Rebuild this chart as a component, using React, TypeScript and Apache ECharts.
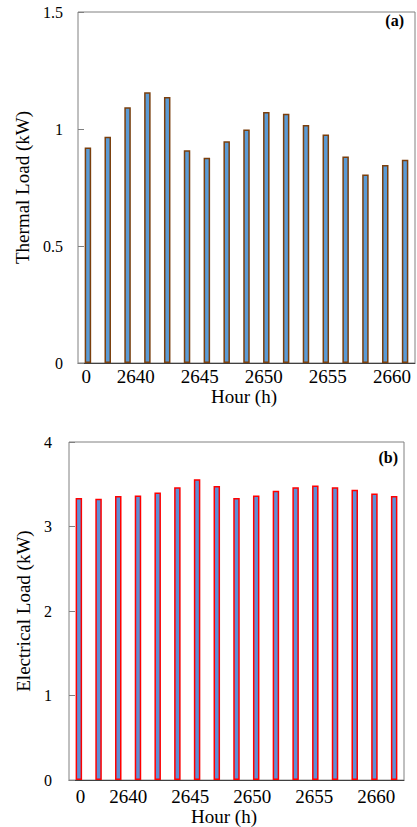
import React, { useEffect, useRef } from 'react';
import * as echarts from 'echarts';

const barCategories = ['1', '2', '3', '4', '5', '6', '7', '8', '9', '10', '11', '12', '13', '14', '15', '16', '17'];
const thermalLoad = [0.921, 0.967, 1.093, 1.157, 1.137, 0.909, 0.877, 0.948, 0.998, 1.073, 1.065, 1.017, 0.977, 0.883, 0.806, 0.846, 0.869];
const electricalLoad = [3.336, 3.328, 3.36, 3.368, 3.403, 3.466, 3.56, 3.478, 3.336, 3.368, 3.422, 3.466, 3.486, 3.466, 3.434, 3.391, 3.36];
const hourTickValues = [2636.15, 2640, 2645, 2650, 2655, 2660];
const hourTickLabels = ['0', '2640', '2645', '2650', '2655', '2660'];

const FONT = 'Liberation Serif, Times New Roman, serif';

const hourFormatter = (v: number) => {
  const i = hourTickValues.findIndex((t) => Math.abs(t - v) < 0.01);
  return i >= 0 ? hourTickLabels[i] : '';
};

export default function App() {
  const ref = useRef<HTMLDivElement>(null);
  useEffect(() => {
    if (!ref.current) return;
    const chart = echarts.init(ref.current, undefined, { renderer: 'svg' });
    const catAxis = (gridIndex: number) => ({
      type: 'category',
      gridIndex,
      data: barCategories,
      boundaryGap: true,
      axisLine: { show: true, lineStyle: { color: '#404040', width: 1 } },
      axisTick: { show: false },
      axisLabel: { show: false },
      splitLine: { show: false },
    });
    const hourAxis = (gridIndex: number, min: number, max: number, margin: number, nameGap: number, padRight: number) => ({
      type: 'value',
      gridIndex,
      min,
      max,
      position: 'bottom',
      axisLine: { show: false },
      axisTick: { show: false },
      splitLine: { show: false },
      axisLabel: {
        customValues: hourTickValues,
        formatter: hourFormatter,
        fontSize: 19,
        fontFamily: FONT,
        color: '#000',
        margin,
      },
      name: 'Hour (h)',
      nameLocation: 'middle',
      nameGap,
      nameTextStyle: { fontSize: 19, fontFamily: FONT, color: '#000', padding: [0, padRight, 0, 0] },
    });
    const valAxis = (gridIndex: number, max: number, interval: number, margin: number, name: string, nameGap: number) => ({
      type: 'value',
      gridIndex,
      min: 0,
      max,
      interval,
      axisLine: { show: false },
      axisTick: { show: true, inside: true, length: 6, lineStyle: { color: '#808080' } },
      splitLine: { show: false },
      axisLabel: { fontSize: 16, fontFamily: FONT, color: '#000', margin },
      name,
      nameLocation: 'middle',
      nameGap,
      nameTextStyle: { fontSize: 19, fontFamily: FONT, color: '#000' },
    });
    chart.setOption({
      animation: false,
      backgroundColor: '#fff',
      textStyle: { fontFamily: FONT },
      grid: [
        { left: 78, top: 12, width: 337, height: 351, show: true, borderColor: '#808080', borderWidth: 1 },
        { left: 69, top: 442, width: 335, height: 339, show: true, borderColor: '#808080', borderWidth: 1 },
      ],
      xAxis: [
        catAxis(0),
        hourAxis(0, 2635.5, 2661.8, 4, 22, 5),
        catAxis(1),
        hourAxis(1, 2635.22, 2662.24, 7, 25, 25),
      ],
      yAxis: [
        valAxis(0, 1.5, 0.5, 15, 'Thermal Load (kW)', 43),
        valAxis(1, 4, 1, 17, 'Electrical Load (kW)', 34),
      ],
      series: [
        {
          type: 'bar',
          xAxisIndex: 0,
          yAxisIndex: 0,
          data: thermalLoad,
          barWidth: 6.5,
          itemStyle: { color: '#5b9bd5', borderColor: '#7b3f0c', borderWidth: 1.5 },
        },
        {
          type: 'bar',
          xAxisIndex: 2,
          yAxisIndex: 1,
          data: electricalLoad,
          barWidth: 6.5,
          itemStyle: { color: '#5f8fd6', borderColor: '#ff0000', borderWidth: 1.5 },
        },
      ],
      graphic: [
        {
          type: 'text',
          right: 13,
          top: 12,
          style: { text: '(a)', font: 'bold 16px Liberation Serif, serif', fill: '#000' },
        },
        {
          type: 'text',
          right: 19,
          top: 449,
          style: { text: '(b)', font: 'bold 16px Liberation Serif, serif', fill: '#000' },
        },
      ],
    });
    return () => chart.dispose();
  }, []);
  return (
    <div
      ref={ref}
      style={{ position: 'fixed', left: 0, top: 0, width: 417, height: 827, background: '#fff' }}
    />
  );
}
